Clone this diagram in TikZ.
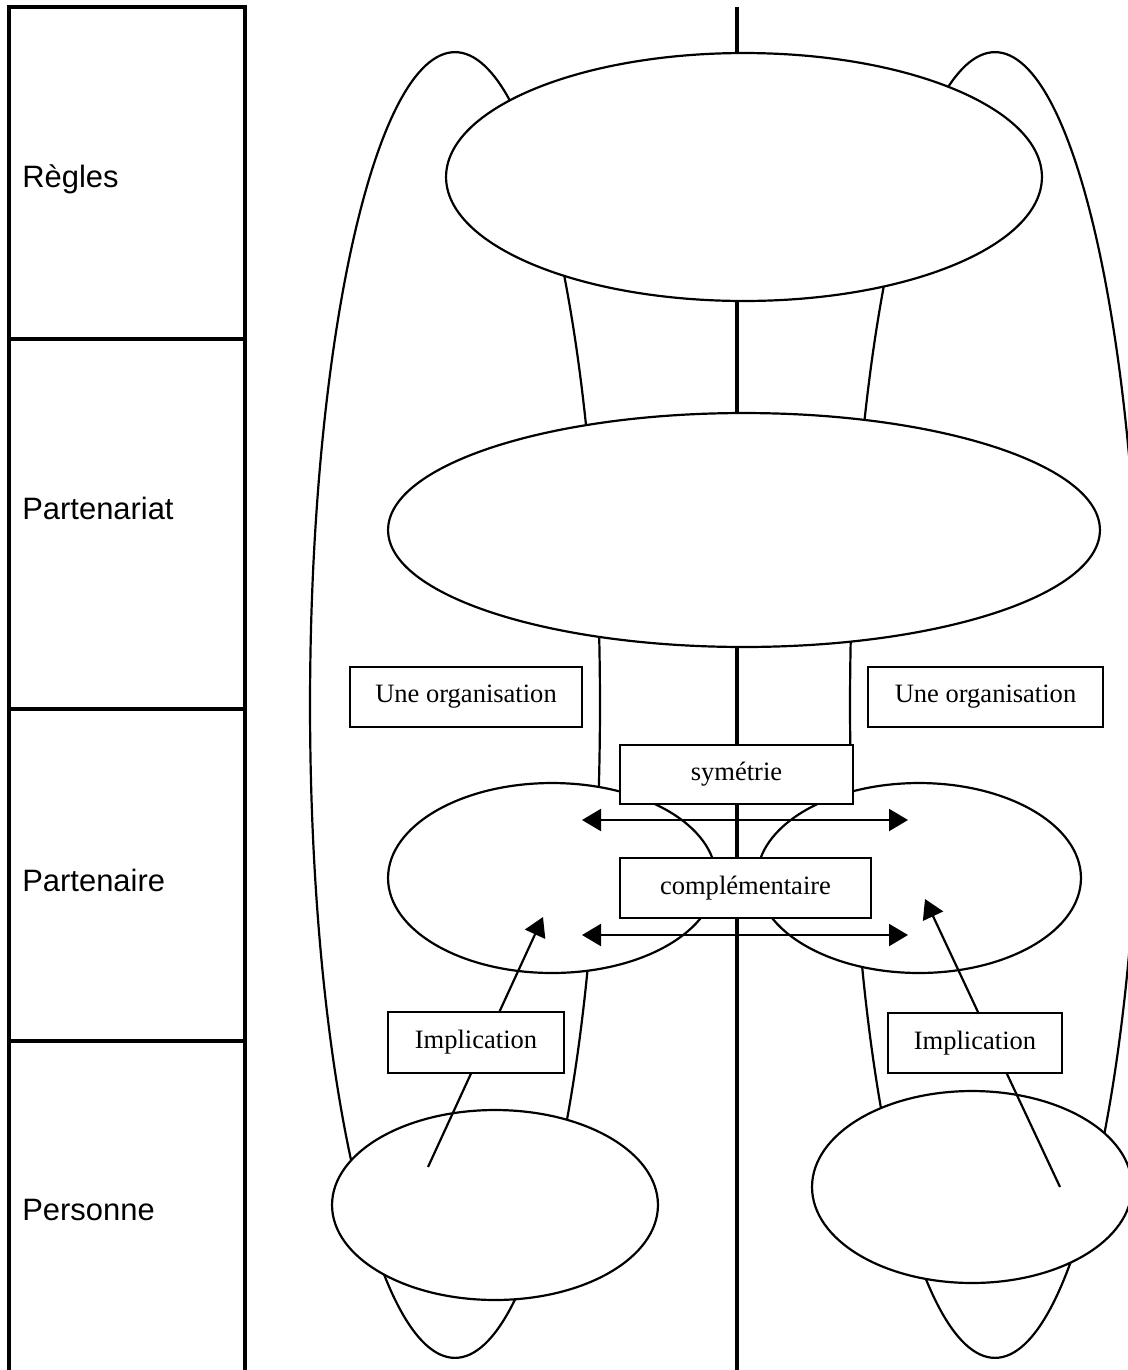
\documentclass[tikz,border=0pt]{standalone}
\usepackage{fontspec}
\setmainfont{Liberation Serif}
\setsansfont{Liberation Sans}
\usetikzlibrary{shapes.geometric,arrows.meta}

\begin{document}
\begin{tikzpicture}[x=0.02cm,y=-0.02cm,
  every node/.style={inner sep=0pt},
  level/.style={anchor=base west,font=\sffamily\fontsize{17.6}{20}\selectfont},
  grid line/.style={line width=1.9pt},
  bubble/.style={draw,ellipse,fill=white,line width=1.25pt},
  loop/.style={draw,ellipse,line width=1.25pt},
  tag/.style={draw,fill=white,line width=1.25pt,minimum height=1.2cm,
    font=\fontsize{15.1}{18}\selectfont},
  link/.style={line width=1.25pt,-{Triangle[length=0.38cm,width=0.44cm]}},
  both link/.style={line width=1.25pt,
    {Triangle[length=0.38cm,width=0.44cm]}-{Triangle[length=0.38cm,width=0.44cm]}}
]
\useasboundingbox (0,0) rectangle (1128,1370);
\clip (0,0) rectangle (1128,1370);

% levels column
\draw[grid line] (9,1372) -- (9,7) -- (245,7) -- (245,1372);
\foreach \y in {339,709,1041}
  \draw[grid line] (9,\y) -- (245,\y);
\node[level] (lvlregles) at (22,187) {Règles};
\node[level] (lvlpartenariat) at (22,519) {Partenariat};
\node[level] (lvlpartenaire) at (22,891) {Partenaire};
\node[level] (lvlpersonne) at (22,1220) {Personne};

% the two organisations
\node[loop,minimum width=5.8cm,minimum height=26.12cm] (orgL) at (455,705) {};
\node[loop,minimum width=5.8cm,minimum height=26.12cm] (orgR) at (995,705) {};
\draw[grid line] (737,7) -- (737,1372);

\node[bubble,minimum width=11.92cm,minimum height=4.96cm] (regles) at (744,177) {};
\node[bubble,minimum width=14.24cm,minimum height=4.68cm] (partenariat) at (744,530) {};
\node[bubble,minimum width=6.56cm,minimum height=3.8cm] (partenaireL) at (552,878) {};
\node[bubble,minimum width=6.48cm,minimum height=3.8cm] (partenaireR) at (919,878) {};
\node[bubble,minimum width=6.52cm,minimum height=3.8cm] (personneL) at (495,1205) {};
\node[bubble,minimum width=6.4cm,minimum height=3.84cm] (personneR) at (972,1187) {};

% arrows
\coordinate (symL) at (582,820);
\coordinate (symR) at (908,820);
\coordinate (compL) at (582,935);
\coordinate (compR) at (908,935);
\coordinate (srcL) at (428,1167);
\coordinate (dstL) at (543,917);
\coordinate (srcR) at (1060,1187);
\coordinate (dstR) at (925,899);
\draw[both link] (symL) -- (symR);
\draw[both link] (compL) -- (compR);
\draw[link] (srcL) -- (dstL);
\draw[link] (srcR) -- (dstR);

% labels
\node[tag,minimum width=4.64cm] (orgtagL) at (466,697) {Une organisation};
\node[tag,minimum width=4.7cm] (orgtagR) at (985.5,697) {Une organisation};
\node[tag,minimum width=4.66cm,minimum height=1.18cm] (symetrie) at (736.5,774.5) {symétrie};
\node[tag,minimum width=5.02cm] (complementaire) at (745.5,888) {complémentaire};
\node[tag,minimum width=3.52cm,minimum height=1.22cm] (implL) at (476,1042.5) {Implication};
\node[tag,minimum width=3.48cm] (implR) at (975,1043) {Implication};
\end{tikzpicture}
\end{document}
